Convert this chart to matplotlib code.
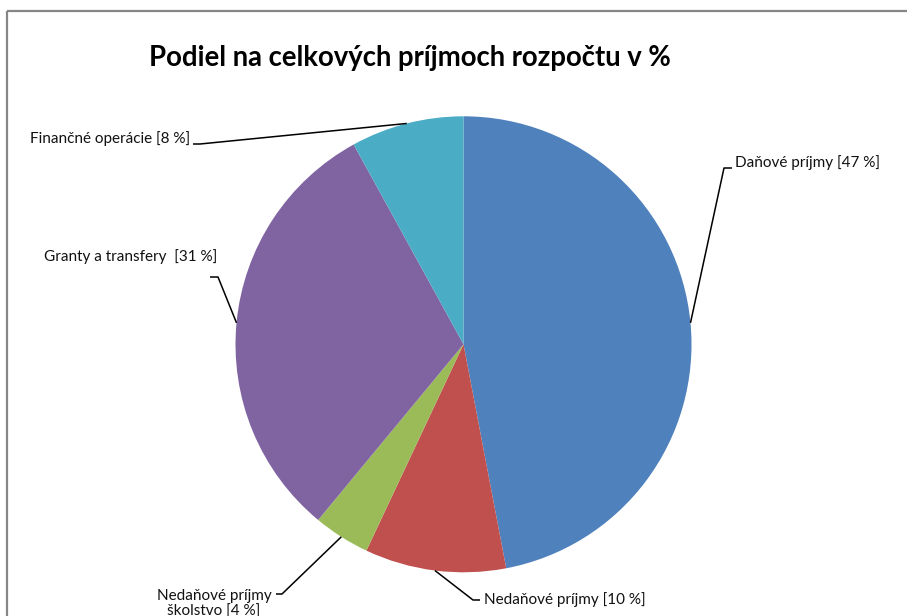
import numpy as np
import matplotlib
matplotlib.use("Agg")
import matplotlib.pyplot as plt

# Data
labels = ["Daňové príjmy [47 %]", "Nedaňové príjmy [10 %]",
          "Nedaňové príjmy\nškolstvo [4 %]", "Granty a transfery  [31 %]",
          "Finančné operácie [8 %]"]
values = [47, 10, 4, 31, 8]
colors = ["#4F81BD", "#C0504D", "#9BBB59", "#8064A2", "#4BACC6"]

W, H = 907, 616
plt.rcParams['font.family'] = ['Lato', 'DejaVu Sans']

fig = plt.figure(figsize=(W / 100, H / 100), dpi=100)
ax = fig.add_axes([0, 0, 1, 1])

cx, cy, r = 463.5, H - 344.3, 228
wedges, _ = ax.pie(values, colors=colors, startangle=90, counterclock=False,
                   center=(cx, cy), radius=r, wedgeprops=dict(linewidth=0))

# label layout: (elbow x, elbow y, end x, text x, text y, ha) in pixel coords (y from top)
layout = [
    (724, 168, 732, 735, 163, "left", "left"),
    (473, 600, 480, 484, 600, "left", "left"),
    (282, 594, 276, 214, 604, "center", "center"),
    (218, 277, 210, 217, 257, "right", "left"),
    (200, 144, 193, 190, 139, "right", "left"),
]
for w, lab, (ex, ey, tx, lx, ly, ha, ma) in zip(wedges, labels, layout):
    mid = np.deg2rad((w.theta1 + w.theta2) / 2)
    px, py = cx + r * np.cos(mid), cy + r * np.sin(mid)
    ax.plot([px, ex, tx], [py, H - ey, H - ey], color="black", lw=1.1,
            solid_capstyle="butt")
    ax.text(lx, H - ly, lab, ha=ha, va="center", fontsize=11,
            color="#111111", multialignment=ma, linespacing=1.1)

ax.text(410, H - 58, "Podiel na celkových príjmoch rozpočtu v %", ha="center",
        va="center", fontsize=19.8, fontweight="bold", color="black")

# chart frame
ax.plot([7, W], [H - 11, H - 11], color="#868686", lw=1.6, solid_capstyle="butt")
ax.plot([7, 7], [H - 11, 0], color="#868686", lw=1.6, solid_capstyle="butt")

ax.set_xlim(0, W)
ax.set_ylim(0, H)
ax.set_aspect("equal")
ax.axis("off")

fig.savefig("out.png", dpi=100, facecolor="white")
